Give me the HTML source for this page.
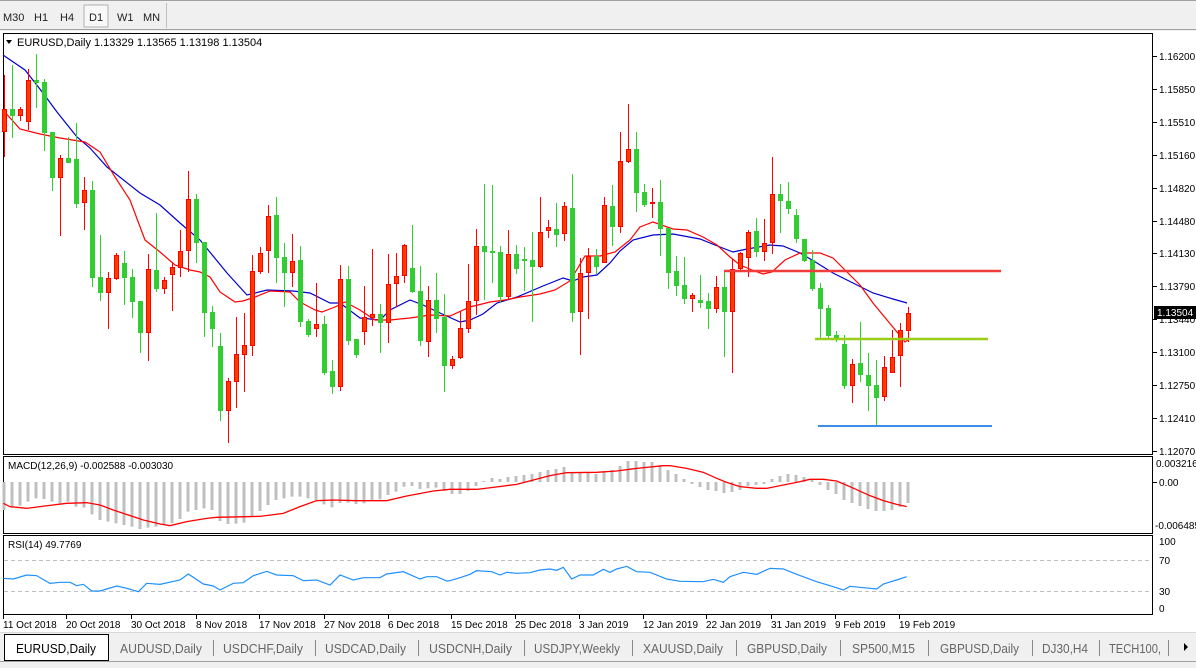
<!DOCTYPE html>
<html><head><meta charset="utf-8">
<style>
body{margin:0;width:1196px;height:663px;overflow:hidden;background:#f0f0f0;font-family:"Liberation Sans",sans-serif}
svg text{font-family:"Liberation Sans",sans-serif}
</style></head><body>
<svg id="s" width="1196" height="663" xmlns="http://www.w3.org/2000/svg">
<rect x="0" y="0" width="1196" height="663" fill="#f0f0f0"/>
<line x1="0" y1="0.5" x2="1196" y2="0.5" stroke="#a0a0a0"/>
<line x1="0" y1="29.5" x2="1196" y2="29.5" stroke="#a0a0a0"/>
<rect x="84" y="5" width="24" height="22" fill="#f8f8f8" stroke="#b0b0b0"/>
<line x1="166.5" y1="3" x2="166.5" y2="28" stroke="#c0c0c0"/>
<g font-size="11" fill="#222">
<text x="3" y="21">M30</text><text x="34" y="21">H1</text><text x="60" y="21">H4</text><text x="89" y="21">D1</text><text x="117" y="21">W1</text><text x="143" y="21">MN</text>
</g>
<rect x="0" y="31" width="1196" height="601" fill="#fff"/>
<rect x="3.5" y="33.5" width="1149" height="421" fill="none" stroke="#000"/>
<rect x="3.5" y="456.5" width="1149" height="77" fill="none" stroke="#000"/>
<rect x="3.5" y="535.5" width="1149" height="79" fill="none" stroke="#000"/>
<g id="main"></g>
<g font-size="11" fill="#000">
<text x="17" y="46">EURUSD,Daily  1.13329 1.13565 1.13198 1.13504</text>
<text x="8" y="469" font-size="10">MACD(12,26,9) -0.002588 -0.003030</text>
<text x="8" y="548" font-size="10">RSI(14) 49.7769</text>
</g>
<path d="M6 40 L12 40 L9 44 Z" fill="#000"/>
<g id="axis" font-size="10" fill="#000"></g>
<rect x="0" y="632" width="1196" height="31" fill="#f0f0f0"/>
<line x1="0" y1="632.5" x2="1196" y2="632.5" stroke="#d8d8d8"/>
<line x1="0" y1="661.5" x2="1196" y2="661.5" stroke="#a0a0a0"/>
<rect x="4.5" y="634.5" width="104" height="26" fill="#fff" stroke="#000"/>
<g font-size="13" fill="#666" id="tabs"><text x="16" y="653" fill="#000" textLength="80" lengthAdjust="spacingAndGlyphs">EURUSD,Daily</text></g>
<path d="M1184 643 L1188 647 L1184 651 Z" fill="#000"/>
</svg>
<script>
var NS="http://www.w3.org/2000/svg";
function el(p,t,a,tx){var e=document.createElementNS(NS,t);for(var k in a)e.setAttribute(k,a[k]);if(tx)e.textContent=tx;p.appendChild(e);return e;}
var g=document.getElementById('main'),ax=document.getElementById('axis'),tb=document.getElementById('tabs');
var C=[
['r',75,157,109,132],['g',65,138,109,116],['r',107,121,109,116],['r',69,130,80,122],['g',54,108,80,83],['g',79,151,82,133],['g',132,191,132,178],['r',155,236,158,178],['g',137,163,158,163],['g',123,208,159,204],
['r',177,230,190,203],['g',181,287,190,278],['g',235,301,277,293],['r',272,329,278,293],['r',253,280,255,279],['g',251,305,263,278],['g',269,318,277,302],['g',301,353,301,333],['r',254,361,269,333],['g',213,292,270,289],
['r',277,294,280,289],['r',262,311,267,275],['r',230,277,251,268],['r',171,272,199,251],['g',194,263,199,243],['g',242,337,242,313],['g',306,347,312,329],['g',333,421,346,411],['r',378,443,381,411],['r',317,408,354,382],
['r',313,392,345,355],['r',255,356,271,346],['r',247,274,253,272],['r',205,273,216,251],['g',197,283,215,258],['g',243,307,257,273],['r',234,287,261,273],['g',246,327,260,322],['g',319,337,321,335],['r',283,337,324,329],
['g',316,375,324,373],['g',360,394,371,387],['r',265,391,279,387],['g',266,345,279,341],['g',339,358,339,355],['r',286,345,317,332],['r',249,326,314,318],['g',304,353,314,323],['r',254,343,284,323],['r',253,307,276,284],
['r',244,283,245,276],['g',225,293,268,292],['g',266,346,291,341],['r',286,357,300,342],['g',273,333,300,319],['g',294,392,317,366],['r',356,369,359,366],['r',311,359,328,358],['r',264,333,301,329],['r',229,315,246,301],
['g',184,300,246,252],['g',185,283,251,253],['g',246,303,252,297],['r',230,300,254,297],['g',245,274,254,269],['g',247,291,259,261],['g',232,322,260,267],['r',197,268,232,267],['r',220,238,227,231],['g',203,247,229,235],
['r',202,241,206,234],['g',174,322,208,313],['r',258,355,273,312],['r',248,319,256,273],['g',249,274,256,267],['r',197,263,205,263],['g',185,246,206,227],['r',132,233,161,227],['r',104,163,149,162],['g',132,212,149,193],
['g',184,207,192,205],['r',188,218,202,204],['g',180,256,202,229],['g',228,289,228,273],['g',256,296,271,286],['g',257,304,285,299],['r',293,312,295,299],['g',275,308,300,303],['g',293,329,301,309],['r',276,313,287,309],
['g',272,357,287,312],['r',259,373,269,312],['r',252,272,253,269],['r',230,277,232,258],['g',218,257,231,252],['r',219,261,243,252],['r',157,254,194,243],['g',184,233,194,201],['g',182,214,201,209],['g',209,243,215,239],
['g',239,262,239,261],['g',250,291,260,289],['g',283,338,288,309],['g',305,340,308,336],['g',331,342,335,340],['g',335,389,344,386],['r',359,403,364,386],['g',322,382,363,375],['g',353,411,375,386],['g',360,425,385,398],
['r',356,401,367,397],['r',330,373,357,373],['r',323,387,330,356],['r',307,342,313,331]];
function px(i){return 4+8*i;}
function pl(pts,col,w,par){var d=pts.map(function(p,i){return (i?'L':'M')+p[0]+' '+p[1];}).join(' ');el(par||g,'path',{d:d,stroke:col,'stroke-width':w||1,fill:'none'});}
pl([[3,55],[25,70],[43,93],[57,112],[77,137],[90,148],[107,167],[140,193],[160,205],[180,223],[200,240],[227,273],[247,295],[267,290],[293,291],[310,293],[330,303],[340,303],[360,318],[380,320],[390,310],[410,300],[423,305],[440,313],[460,322],[470,320],[483,314],[497,303],[517,297],[543,286],[563,278],[573,281],[583,277],[597,275],[610,263],[620,251],[633,240],[653,235],[673,234],[700,239],[720,247],[733,252],[747,249],[770,245],[783,246],[800,253],[817,263],[833,273],[853,283],[873,293],[893,299],[907,303]],'#0000cc',1.2);
pl([[3,110],[20,129],[40,134],[60,138],[85,142],[100,152],[115,177],[130,200],[145,240],[160,252],[175,265],[190,270],[200,272],[210,277],[220,292],[235,302],[243,301],[255,297],[270,291],[290,292],[300,302],[315,310],[322,312],[335,307],[345,302],[360,310],[375,320],[390,320],[410,318],[430,315],[450,316],[470,307],[490,302],[505,300],[520,297],[540,294],[555,290],[570,281],[585,256],[600,256],[615,252],[630,240],[640,227],[653,222],[673,229],[687,230],[703,237],[717,245],[730,257],[740,265],[752,270],[763,274],[772,272],[785,260],[800,253],[820,253],[833,258],[847,272],[860,285],[873,303],[887,320],[897,332],[905,342],[908,340]],'#ff0000',1.2);
C.forEach(function(c,i){var x=px(i),gr=c[0]=='g';var col=gr?'#32cd32':'#ff0000';
el(g,'line',{x1:x+0.5,x2:x+0.5,y1:c[1],y2:c[2],stroke:col});
var h=Math.max(1,c[4]-c[3]);
if(gr)el(g,'rect',{x:x-2,y:c[3],width:5,height:h,fill:'#32cd32'});
else el(g,'rect',{x:x-1.5,y:c[3]+0.5,width:4,height:Math.max(0.5,h-1),fill:'#ff3c00',stroke:'#ff0000'});
});
el(g,'line',{x1:724,x2:1001,y1:271,y2:271,stroke:'#f23b3b','stroke-width':2.5});
el(g,'line',{x1:815,x2:988,y1:339,y2:339,stroke:'#9acd18','stroke-width':2.5});
el(g,'line',{x1:818,x2:992,y1:426,y2:426,stroke:'#3a8ee6','stroke-width':2});
var h1=[165,158,152,140,130,132,140,145,140,155,158,178,195,200,205,210,215,222,218,215,210,205,192,170,165,160,165,198,207,206,203,183,168,150,135,130,125,125,130,135,148,157,144,143,147,145,135,133,120,110,95,93,102,100,98,108,115,103];
var h2=[117,117,108,93,78,69,72,66,63,60,57,51,45,42,36,52,52,52,57,48,45,33,18,18,21,21,30,45,57,72,87,96,105,108,114,111,105,93,90,87,72,63,57,60,66,75,90,105,117,135,144,153,162,168,168,165,156,144];
var H=[];for(var i=0;i<56;i++)H[i]=h1[i];for(var i=0;i<58;i++)H[56+i]=h2[i];
H.forEach(function(v,i){var y=455+v/3,z=482;var x=px(i);var t=Math.min(y,z),b=Math.max(y,z);el(g,'rect',{x:x-1.5,y:t,width:3,height:Math.max(1,b-t),fill:'#c0c0c0'});});
var s1=[[10,145],[30,155],[80,160],[120,155],[200,145],[260,143],[300,150],[340,165],[400,185],[430,195],[480,207],[510,212],[560,200],[620,190],[650,187],[740,185],[780,184],[850,175],[900,155],[950,137],[1000,135],[1070,137],[1160,137],[1220,123],[1300,108],[1350,103]].map(function(p){return [p[0]/3,455+p[1]/3];});
var s2=[[0,103],[80,103],[130,97],[200,88],[250,75],[300,62],[350,53],[440,52],[500,48],[560,40],[640,32],[660,32],[710,40],[760,52],[800,70],[830,82],[870,95],[920,100],[950,100],[1000,90],[1040,82],[1080,73],[1120,73],[1160,78],[1200,95],[1260,122],[1300,137],[1340,148],[1370,155]].map(function(p){return [450+p[0]/3,455+p[1]/3];});
pl(s1.concat(s2),'#ff0000',1.3);
el(g,'line',{x1:4,x2:1152,y1:560.5,y2:560.5,stroke:'#c0c0c0','stroke-dasharray':'4,3'});
el(g,'line',{x1:4,x2:1152,y1:591.5,y2:591.5,stroke:'#c0c0c0','stroke-dasharray':'4,3'});
var r1=[[10,370],[40,372],[80,360],[110,362],[150,385],[180,382],[210,382],[230,392],[250,388],[275,408],[300,408],[350,393],[380,400],[415,410],[440,385],[480,388],[540,375],[565,357],[610,387],[640,393],[660,405],[700,385],[730,383],[760,362],[800,349],[830,360],[880,362],[910,377],[950,375],[990,390],[1020,360],[1060,375],[1090,368],[1140,368],[1160,357],[1210,350],[1260,372],[1280,365],[1310,365],[1340,378]].map(function(p){return [p[0]/3,455+p[1]/3];});
var r2=[[0,377],[30,368],[60,358],[80,347],[125,350],[150,360],[170,352],[200,355],[240,353],[270,345],[300,342],[320,346],[340,337],[365,372],[390,360],[430,360],[460,343],[480,352],[500,342],[530,334],[560,350],[600,352],[650,372],[690,379],[760,380],[790,373],[820,382],[840,365],[880,352],[900,355],[920,358],[960,340],[1000,342],[1040,358],[1100,380],[1140,392],[1180,405],[1200,394],[1260,400],[1280,402],[1300,387],[1340,375],[1370,365]].map(function(p){return [450+p[0]/3,455+p[1]/3];});
pl(r1.concat(r2),'#1e90ff',1.2);
var P=['1.16200','1.15850','1.15510','1.15160','1.14820','1.14480','1.14130','1.13790','1.13440','1.13100','1.12750','1.12410','1.12070'];
P.forEach(function(p,i){var y=Math.round(56+i*32.9);el(ax,'line',{x1:1153,x2:1157,y1:y+0.5,y2:y+0.5,stroke:'#000'});el(ax,'text',{x:1159,y:y+4},p);});
el(ax,'rect',{x:1154,y:306,width:42,height:13,fill:'#000'});
el(ax,'text',{x:1157,y:316,fill:'#fff'},'1.13504');
el(ax,'text',{x:1156,y:467},'0.003216');el(ax,'text',{x:1159,y:486},'0.00');el(ax,'text',{x:1155,y:529},'-0.006485');
el(ax,'line',{x1:1153,x2:1157,y1:482.5,y2:482.5,stroke:'#000'});
el(ax,'text',{x:1159,y:545},'100');el(ax,'text',{x:1159,y:564},'70');el(ax,'text',{x:1159,y:595},'30');el(ax,'text',{x:1159,y:612},'0');
var D=[[3,'11 Oct 2018'],[66,'20 Oct 2018'],[131,'30 Oct 2018'],[196,'8 Nov 2018'],[259,'17 Nov 2018'],[324,'27 Nov 2018'],[388,'6 Dec 2018'],[451,'15 Dec 2018'],[515,'25 Dec 2018'],[579,'3 Jan 2019'],[643,'12 Jan 2019'],[706,'22 Jan 2019'],[771,'31 Jan 2019'],[835,'9 Feb 2019'],[899,'19 Feb 2019']];
D.forEach(function(d){el(ax,'line',{x1:d[0]+0.5,x2:d[0]+0.5,y1:615,y2:619,stroke:'#000'});el(ax,'text',{x:d[0],y:628},d[1]);});
var T=[[120,82,'AUDUSD,Daily'],[223,80,'USDCHF,Daily'],[325,81,'USDCAD,Daily'],[429,83,'USDCNH,Daily'],[534,86,'USDJPY,Weekly'],[643,80,'XAUUSD,Daily'],[747,80,'GBPUSD,Daily'],[852,63,'SP500,M15'],[940,79,'GBPUSD,Daily'],[1042,46,'DJ30,H4'],[1109,52,'TECH100,']];
T.forEach(function(t){el(tb,'text',{x:t[0],y:653,textLength:t[1],lengthAdjust:'spacingAndGlyphs'},t[2]);});
[213,315,418,524,632,736,840,928,1032,1099,1168].forEach(function(x){el(tb,'line',{x1:x+0.5,x2:x+0.5,y1:640,y2:656,stroke:'#888'});});
</script>
</body></html>
